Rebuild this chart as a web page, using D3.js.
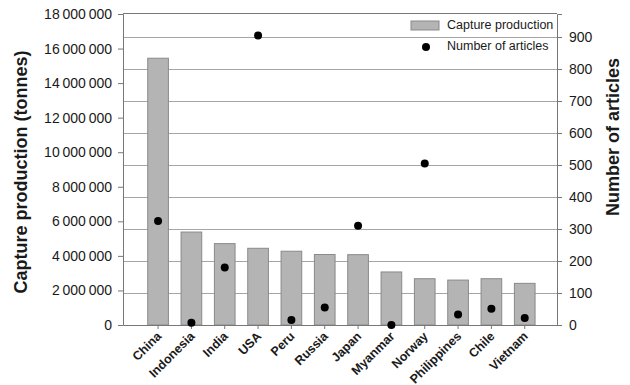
<!DOCTYPE html>
<html>
<head>
<meta charset="utf-8">
<script src="https://cdn.jsdelivr.net/npm/d3@7/dist/d3.min.js"></script>
<style>
  html, body { margin: 0; padding: 0; background: #fff; }
  svg { display: block; font-family: "Liberation Sans", Arial, sans-serif; }
</style>
</head>
<body>
<svg id="chart" width="630" height="385"></svg>
<script>
// Fisheries capture production by country, with number of published articles
const countries = ["China", "Indonesia", "India", "USA", "Peru", "Russia", "Japan",
                   "Myanmar", "Norway", "Philippines", "Chile", "Vietnam"];
const captureTonnes = [15440000, 5380000, 4710000, 4440000, 4270000, 4080000, 4070000,
                       3070000, 2680000, 2600000, 2680000, 2410000];
const articleCounts = [325, 7, 180, 905, 16, 55, 310, 0, 505, 33, 51, 22];
const leftTicks = [0, 2000000, 4000000, 6000000, 8000000, 10000000, 12000000,
                   14000000, 16000000, 18000000];
const rightTicks = [0, 100, 200, 300, 400, 500, 600, 700, 800, 900];
const legendLabels = ["Capture production", "Number of articles"];

const svg = d3.select("#chart");
const plot = { left: 123, right: 557, top: 14, bottom: 325 };

const x = d3.scaleBand()
  .domain(countries)
  .range([plot.left, plot.right])
  .paddingInner(0.38)
  .paddingOuter(0.7)
  .align(0.53);

const yLeft = d3.scaleLinear().domain([0, 18000000]).range([plot.bottom, plot.top]);
const yRight = d3.scaleLinear().domain([0, 972]).range([plot.bottom, plot.top]);

const barFill = "#b4b4b4";
const barStroke = "#8a8a8a";
const gridColor = "#a6a6a6";
const axisColor = "#777";
const textColor = "#1a1a1a";

// Horizontal grid follows the article-count axis
svg.append("g")
  .selectAll("line")
  .data(rightTicks.filter(d => d > 0))
  .join("line")
  .attr("x1", plot.left).attr("x2", plot.right)
  .attr("y1", d => Math.round(yRight(d)) + 0.5)
  .attr("y2", d => Math.round(yRight(d)) + 0.5)
  .attr("stroke", gridColor).attr("stroke-width", 1);

// Top frame
svg.append("line")
  .attr("x1", plot.left).attr("x2", plot.right)
  .attr("y1", plot.top - 0.5).attr("y2", plot.top - 0.5)
  .attr("stroke", axisColor).attr("stroke-width", 1);

// Bars
svg.append("g")
  .selectAll("rect")
  .data(countries)
  .join("rect")
  .attr("x", d => x(d))
  .attr("width", x.bandwidth())
  .attr("y", (d, i) => yLeft(captureTonnes[i]))
  .attr("height", (d, i) => plot.bottom - yLeft(captureTonnes[i]))
  .attr("fill", barFill)
  .attr("stroke", barStroke)
  .attr("stroke-width", 1);

// Number formatting with space thousands separator
const spaceFmt = d => d3.format(",")(d).replace(/,/g, "\u2009");

// Left axis
const gLeft = svg.append("g")
  .attr("transform", `translate(${plot.left},0)`)
  .call(d3.axisLeft(yLeft).tickValues(leftTicks).tickSize(5).tickPadding(6).tickFormat(spaceFmt));
gLeft.select(".domain").attr("stroke", axisColor);
gLeft.selectAll(".tick line").attr("stroke", axisColor);
gLeft.selectAll(".tick text").attr("font-size", 14).attr("fill", textColor)
  .attr("font-family", "'Liberation Sans', Arial, sans-serif");

// Right axis
const gRight = svg.append("g")
  .attr("transform", `translate(${plot.right},0)`)
  .call(d3.axisRight(yRight).tickValues(rightTicks).tickSize(5).tickPadding(7));
gRight.select(".domain").attr("stroke", axisColor);
gRight.selectAll(".tick line").attr("stroke", axisColor);
gRight.selectAll(".tick text").attr("font-size", 14).attr("fill", textColor)
  .attr("font-family", "'Liberation Sans', Arial, sans-serif");

// Bottom axis
const gBottom = svg.append("g")
  .attr("transform", `translate(0,${plot.bottom})`)
  .call(d3.axisBottom(x).tickSize(4).tickSizeOuter(0));
gBottom.select(".domain").attr("stroke", axisColor);
gBottom.selectAll(".tick line").attr("stroke", axisColor);
gBottom.selectAll(".tick text")
  .attr("font-size", 12.5).attr("font-weight", "bold").attr("fill", textColor)
  .attr("font-family", "'Liberation Sans', Arial, sans-serif")
  .attr("text-anchor", "end")
  .attr("x", 0).attr("y", 0).attr("dy", null)
  .attr("transform", "translate(4,12) rotate(-45)");

// Article count dots
svg.append("g")
  .selectAll("circle")
  .data(countries)
  .join("circle")
  .attr("cx", d => x(d) + x.bandwidth() / 2)
  .attr("cy", (d, i) => yRight(articleCounts[i]))
  .attr("r", 4)
  .attr("fill", "#000");

// Axis titles
svg.append("text")
  .attr("transform", `translate(22,172) rotate(-90)`)
  .attr("text-anchor", "middle").attr("dominant-baseline", "middle")
  .attr("font-size", 18).attr("font-weight", "bold").attr("fill", textColor)
  .text("Capture production (tonnes)");

svg.append("text")
  .attr("transform", `translate(614,137) rotate(-90)`)
  .attr("text-anchor", "middle").attr("dominant-baseline", "middle")
  .attr("font-size", 18).attr("font-weight", "bold").attr("fill", textColor)
  .text("Number of articles");

// Legend
const legend = svg.append("g");
legend.append("rect")
  .attr("x", 411).attr("y", 21).attr("width", 28).attr("height", 9)
  .attr("fill", barFill).attr("stroke", barStroke);
legend.append("circle")
  .attr("cx", 426).attr("cy", 47).attr("r", 4).attr("fill", "#000");
legend.selectAll("text")
  .data(legendLabels)
  .join("text")
  .attr("x", 447)
  .attr("y", (d, i) => i === 0 ? 25.5 : 47)
  .attr("dominant-baseline", "middle")
  .attr("font-size", 12.5).attr("fill", textColor)
  .text(d => d);
</script>
</body>
</html>
